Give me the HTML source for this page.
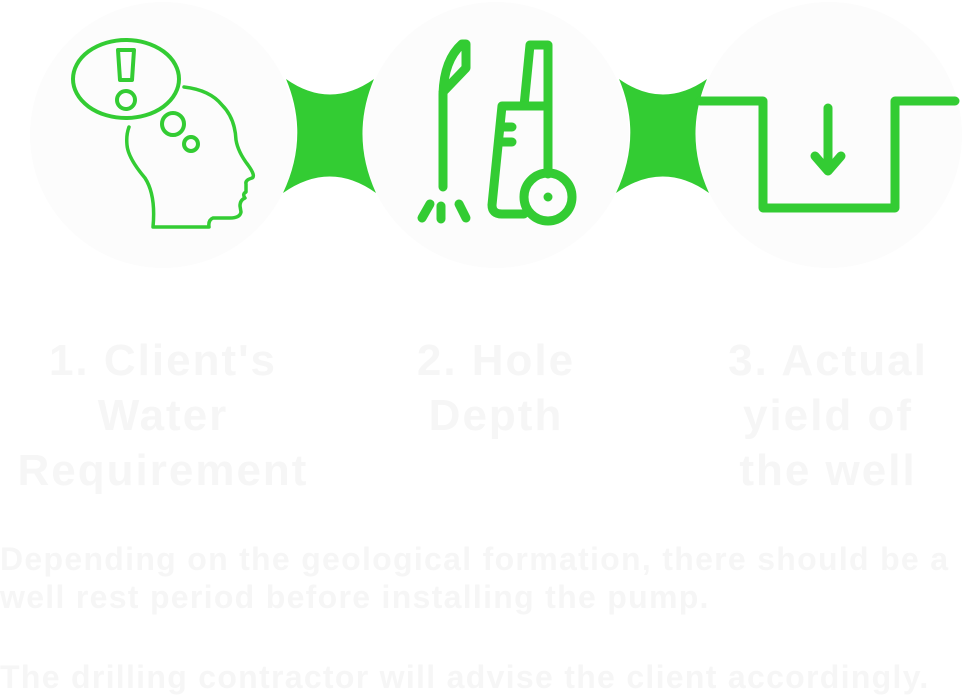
<!DOCTYPE html>
<html><head><meta charset="utf-8"><style>
html,body{margin:0;padding:0;background:#fff;}
body{width:962px;height:696px;position:relative;overflow:hidden;font-family:"Liberation Sans",sans-serif;}
svg{position:absolute;left:0;top:0;}
.t{position:absolute;color:#f6f6f6;font-size:44px;font-weight:bold;letter-spacing:2px;line-height:55px;text-align:center;width:340px;}
.p{position:absolute;left:0;color:#f6f6f6;font-size:32px;font-weight:bold;letter-spacing:1.3px;line-height:38px;white-space:nowrap;}
</style></head><body>
<svg width="962" height="696" viewBox="0 0 962 696">
<circle cx="163" cy="135" r="133" fill="#fcfcfc"/>
<circle cx="496" cy="135" r="133" fill="#fcfcfc"/>
<circle cx="829" cy="135" r="133" fill="#fcfcfc"/>
<g fill="#33cc33">
<path d="M286 79 Q330 110 374 79 Q350 136 376 193 Q330 160 283 193 Q310 136 286 79Z"/>
<path d="M619 79 Q663 110 707 79 Q683 136 709 193 Q663 160 616 193 Q643 136 619 79Z"/>
</g>
<g fill="none" stroke="#33cc33" stroke-linecap="round" stroke-linejoin="round">
<ellipse cx="126" cy="79" rx="53" ry="39" stroke-width="4"/>
<path d="M118 50 L134 50 L132 80 L120 80Z" stroke-width="4"/>
<circle cx="126" cy="100" r="9" stroke-width="4"/>
<circle cx="173" cy="124" r="11" stroke-width="4"/>
<circle cx="191" cy="144" r="7" stroke-width="4"/>
<path d="M184 87 Q210 90 222 105 Q235 118 236 140 Q238 152 248 165 Q256 176 252 178 Q245 180 246 184 L246 192 Q242 194 245 198 Q240 200 240 206 L241 212 Q240 218 230 218 L213 218 Q208 220 209 227 L153 227 Q156 195 145 178 Q128 158 127 145 Q126 135 129 127" stroke-width="3.5"/>
<path d="M443 187 L443 94 Q444 60 462 44 L466 44 L466 68 L443 92" stroke-width="9"/>
<path d="M422 218 L430 204 M441 219 L441 206 M459 204 L466 218" stroke-width="9"/>
<path d="M548 174 L548 45 L530 45 L524 106 L502 106 L492 205 Q492 214 502 214 L524 214" stroke-width="9"/>
<path d="M524 106 L548 106" stroke-width="9"/>
<path d="M501 127 L512 127 M499 142 L512 142" stroke-width="9"/>
<circle cx="548" cy="197" r="24" stroke-width="9"/>
<circle cx="548" cy="197" r="3" fill="#33cc33" stroke-width="3"/>
<path d="M700 101 L763 101 L763 208 L895 208 L895 101 L955 101" stroke-width="9"/>
<path d="M828 108 L828 170 M815 156 L828 171 L841 156" stroke-width="9"/>
</g>
</svg>
<div class="t" style="left:-7px;top:333px;">1. Client's<br>Water<br>Requirement</div>
<div class="t" style="left:326px;top:333px;">2. Hole<br>Depth</div>
<div class="t" style="left:658px;top:333px;">3. Actual<br>yield of<br>the well</div>
<div class="p" style="top:540px;">Depending on the geological formation, there should be a<br>well rest period before installing the pump.</div>
<div class="p" style="top:658px;">The drilling contractor will advise the client accordingly.</div>
</body></html>
